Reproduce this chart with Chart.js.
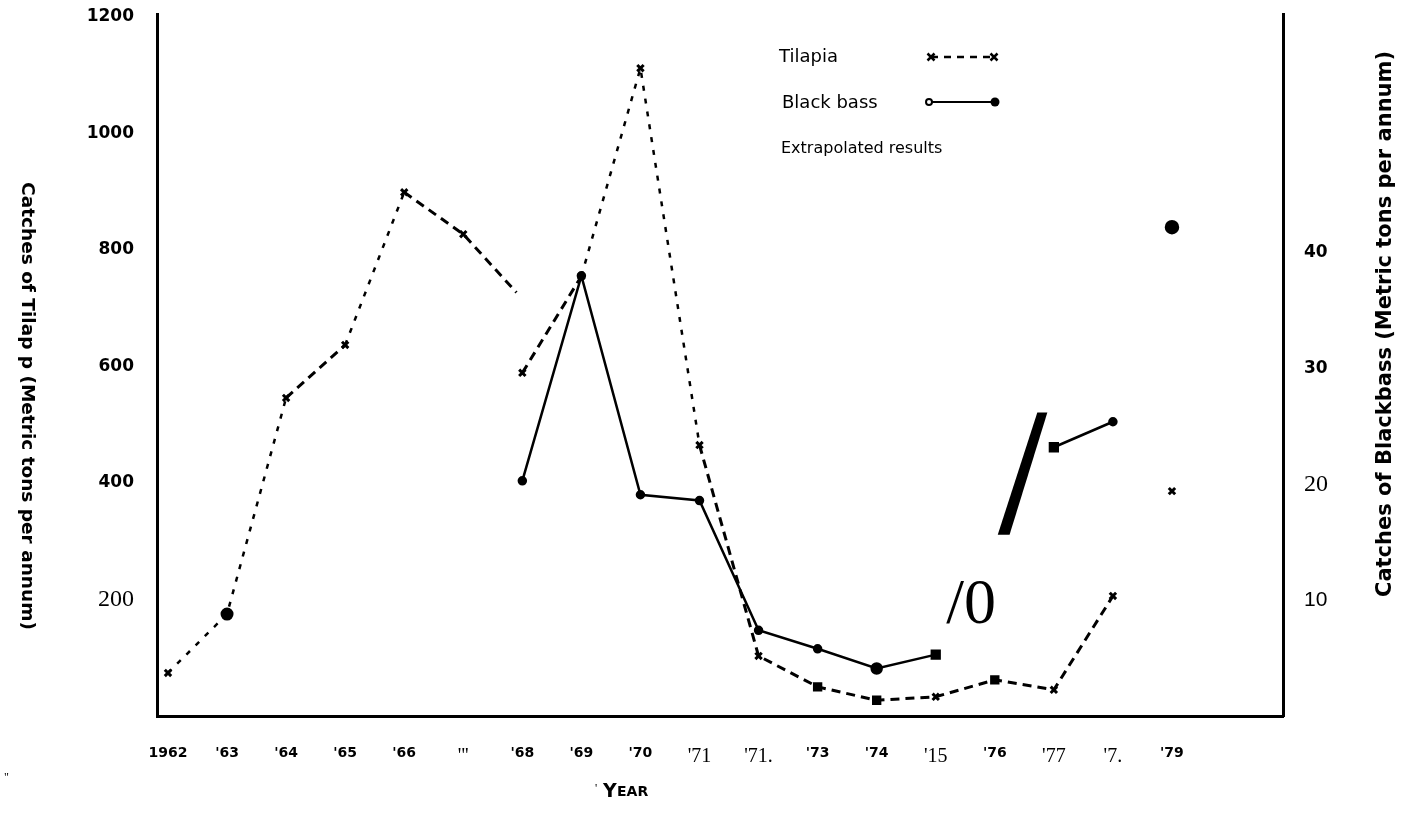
<!DOCTYPE html>
<html>
<head>
<meta charset="utf-8">
<script src="https://cdn.jsdelivr.net/npm/chart.js@4.4.1/dist/chart.umd.min.js"></script>
<style>
html, body { margin: 0; padding: 0; background: #fff; }
</style>
</head>
<body>
<canvas id="chart" width="1412" height="821"></canvas>
<script>
// x axis: one tick per year, labels as they appear on the scan
const years = [1962, 1963, 1964, 1965, 1966, 1967, 1968, 1969, 1970, 1971, 1972, 1973, 1974, 1975, 1976, 1977, 1978, 1979];
const yearLabels = ["1962", "'63", "'64", "'65", "'66", "'''", "'68", "'69", "'70", "'71", "'71.", "'73", "'74", "'15", "'76", "'77", "'7.", "'79"];

// Tilapia catches (left axis, metric tons per annum)
const tilapiaYears = [1962, 1963, 1964, 1965, 1966, 1967, 1967.9, 1968, 1969, 1970, 1971, 1972, 1973, 1974, 1975, 1976, 1977, 1978, 1979];
const tilapiaCatch = [74, 175, 546, 637, 899, 827, 727, 589, 755, 1112, 465, 103, 50, 27, 33, 62, 45, 206, 386];

// Black bass catches (right axis, metric tons per annum)
const bassYears = [1968, 1969, 1970, 1971, 1972, 1973, 1974, 1975, 1976, 1977, 1978, 1979];
const bassCatch = [20.3, 38.0, 19.1, 18.6, 7.4, 5.8, 4.1, 5.3, null, 23.2, 25.4, 42.2];

const leftTicks = [200, 400, 600, 800, 1000, 1200];
const rightTicks = [10, 20, 30, 40];

// which labels came out as typed text in the scan
const serifYears = [1967, 1971, 1972, 1975, 1977, 1978];
const serifLeft = [200];
const serifRight = [20];
const sansRight = [10];

// line breaks / sparse dashes in the tilapia curve
const tilapiaGapFrom = [1967.9, 1978];
const tilapiaSparseFrom = [1962, 1963, 1965, 1969, 1970];
const bassGapFrom = [1978];

const hand = '"DejaVu Sans"';
const typed = '"Liberation Serif"';

const overlay = {
  id: 'overlay',
  afterDraw(chart) {
    const ctx = chart.ctx;
    const x = chart.scales.x;
    const yL = chart.scales.yL;
    ctx.save();
    ctx.fillStyle = '#000';
    ctx.strokeStyle = '#000';

    // left axis title, reads top to bottom
    ctx.save();
    ctx.translate(27, 406);
    ctx.rotate(Math.PI / 2);
    ctx.textAlign = 'center';
    ctx.textBaseline = 'middle';
    ctx.font = 'bold 18.5px ' + hand;
    ctx.fillText('Catches of Tilap p (Metric tons per annum)', 0, 0);
    ctx.restore();

    // right axis title, reads bottom to top
    ctx.save();
    ctx.translate(1386, 324);
    ctx.rotate(-Math.PI / 2);
    ctx.textAlign = 'center';
    ctx.textBaseline = 'middle';
    ctx.font = '600 21px ' + hand;
    ctx.fillText('Catches of Blackbass (Metric tons per annum)', 0, 0);
    ctx.restore();

    // legend
    ctx.textAlign = 'left';
    ctx.textBaseline = 'middle';
    ctx.font = '18px ' + hand;
    ctx.fillText('Tilapia', 779, 57);
    ctx.fillText('Black bass', 782, 103);
    ctx.font = '16px ' + hand;
    ctx.fillText('Extrapolated results', 781, 149);

    ctx.lineWidth = 2.5;
    ctx.setLineDash([7, 6]);
    ctx.beginPath(); ctx.moveTo(931, 57); ctx.lineTo(994, 57); ctx.stroke();
    ctx.setLineDash([]);
    ctx.lineWidth = 2.5;
    [931, 994].forEach(px => {
      ctx.beginPath();
      ctx.moveTo(px - 3.5, 53.5); ctx.lineTo(px + 3.5, 60.5);
      ctx.moveTo(px + 3.5, 53.5); ctx.lineTo(px - 3.5, 60.5);
      ctx.stroke();
    });
    ctx.lineWidth = 2;
    ctx.beginPath(); ctx.moveTo(932, 102); ctx.lineTo(994, 102); ctx.stroke();
    ctx.beginPath(); ctx.arc(929, 102, 3, 0, Math.PI * 2); ctx.stroke();
    ctx.beginPath(); ctx.arc(995, 102, 4.5, 0, Math.PI * 2); ctx.fill();

    // scan artifacts: "/0" and the heavy stroke
    ctx.font = '64px ' + typed;
    ctx.textAlign = 'center';
    ctx.textBaseline = 'alphabetic';
    ctx.fillText('/0', x.getPixelForValue(1975.6), yL.getPixelForValue(160));
    ctx.beginPath();
    ctx.moveTo(x.getPixelForValue(1976.72), yL.getPixelForValue(521));
    ctx.lineTo(x.getPixelForValue(1976.89), yL.getPixelForValue(521));
    ctx.lineTo(x.getPixelForValue(1976.25), yL.getPixelForValue(311));
    ctx.lineTo(x.getPixelForValue(1976.05), yL.getPixelForValue(311));
    ctx.closePath();
    ctx.fill();

    // x axis title
    ctx.textAlign = 'left';
    ctx.textBaseline = 'alphabetic';
    ctx.font = 'bold 19px ' + hand;
    ctx.fillText('Y', 603, 797);
    ctx.font = 'bold 14px ' + hand;
    ctx.fillText('EAR', 617, 796);
    ctx.font = '12px ' + typed;
    ctx.fillText("'", 595, 792);
    ctx.fillText('"', 4, 781);
    ctx.restore();
  }
};

const tilapiaStyle = v => {
  if (v === 1963) return 'circle';
  if ([1973, 1974, 1976].includes(v)) return 'rect';
  return 'crossRot';
};
const bassStyle = v => ([1975, 1977].includes(v) ? 'rect' : 'circle');

const noPad = s => { s.paddingTop = 0; s.paddingBottom = 0; };

new Chart(document.getElementById('chart'), {
  type: 'line',
  data: {
    datasets: [
      {
        label: 'Tilapia',
        yAxisID: 'yL',
        data: tilapiaYears.map((yr, i) => ({ x: yr, y: tilapiaCatch[i] })),
        borderColor: '#000',
        borderWidth: 3,
        borderDash: [9, 6],
        tension: 0,
        pointStyle: ctx => tilapiaStyle(ctx.raw && ctx.raw.x),
        pointRadius: ctx => {
          const v = ctx.raw && ctx.raw.x;
          if (v === 1967.9) return 0;
          if (v === 1963) return 5;
          return 4.5;
        },
        pointBorderWidth: 3,
        pointBackgroundColor: '#000',
        pointBorderColor: '#000',
        segment: {
          borderColor: ctx => tilapiaGapFrom.includes(ctx.p0.parsed.x) ? 'rgba(0,0,0,0)' : '#000',
          borderDash: ctx => tilapiaSparseFrom.includes(ctx.p0.parsed.x) ? [5, 8] : [9, 6],
          borderWidth: ctx => tilapiaSparseFrom.includes(ctx.p0.parsed.x) ? 2.5 : 3
        }
      },
      {
        label: 'Black bass',
        yAxisID: 'yR',
        data: bassYears.map((yr, i) => ({ x: yr, y: bassCatch[i] })),
        borderColor: '#000',
        borderWidth: 2.5,
        tension: 0,
        spanGaps: false,
        pointStyle: ctx => bassStyle(ctx.raw && ctx.raw.x),
        pointRadius: ctx => {
          const v = ctx.raw && ctx.raw.x;
          if (v === 1979) return 6;
          if (v === 1974) return 5;
          if (bassStyle(v) === 'rect') return 5.5;
          return 3.5;
        },
        pointBackgroundColor: '#000',
        pointBorderColor: '#000',
        segment: {
          borderColor: ctx => bassGapFrom.includes(ctx.p0.parsed.x) ? 'rgba(0,0,0,0)' : '#000'
        }
      }
    ]
  },
  options: {
    responsive: false,
    animation: false,
    layout: { padding: { top: 14, left: 0, right: 0, bottom: 0 } },
    plugins: { legend: { display: false }, tooltip: { enabled: false } },
    scales: {
      x: {
        type: 'linear',
        min: 1961.814,
        max: 1980.88,
        afterBuildTicks: s => { s.ticks = years.map(v => ({ value: v })); },
        afterFit: s => { s.height = 105; s.paddingLeft = 0; s.paddingRight = 0; },
        grid: { display: false },
        border: { display: true, color: '#000', width: 3 },
        ticks: {
          autoSkip: false,
          maxRotation: 0,
          padding: 21,
          color: '#000',
          callback: v => yearLabels[years.indexOf(v)],
          font: ctx => serifYears.includes(ctx.tick && ctx.tick.value)
            ? { family: typed, size: 20 }
            : { family: hand, size: 14, weight: 'bold' }
        }
      },
      yL: {
        position: 'left',
        min: 0,
        max: 1205,
        afterBuildTicks: s => { s.ticks = leftTicks.map(v => ({ value: v })); },
        afterFit: s => { s.width = 157; noPad(s); },
        grid: { display: false },
        border: { display: true, color: '#000', width: 3 },
        ticks: {
          padding: 15,
          color: '#000',
          callback: v => String(v),
          font: ctx => serifLeft.includes(ctx.tick && ctx.tick.value)
            ? { family: typed, size: 24 }
            : { family: hand, size: 17, weight: 'bold' }
        }
      },
      yR: {
        position: 'right',
        min: 0,
        max: 60.6,
        afterBuildTicks: s => { s.ticks = rightTicks.map(v => ({ value: v })); },
        afterFit: s => { s.width = 129; noPad(s); },
        grid: { display: false },
        border: { display: true, color: '#000', width: 3 },
        ticks: {
          padding: 13,
          color: '#000',
          callback: v => String(v),
          font: ctx => {
            const v = ctx.tick && ctx.tick.value;
            if (serifRight.includes(v)) return { family: typed, size: 24 };
            if (sansRight.includes(v)) return { family: '"Liberation Sans"', size: 21 };
            return { family: hand, size: 17, weight: 'bold' };
          }
        }
      }
    }
  },
  plugins: [overlay]
});
</script>
</body>
</html>
